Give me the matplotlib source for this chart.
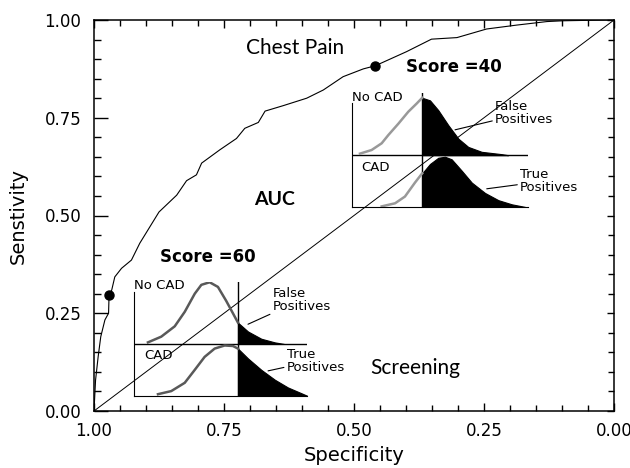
import numpy as np
import matplotlib.pyplot as plt
from matplotlib.ticker import MultipleLocator

# ROC curve (specificity, sensitivity)
spec = [1.000, 0.997, 0.992, 0.987, 0.979, 0.972, 0.971, 0.966, 0.960, 0.947,
        0.928, 0.912, 0.875, 0.841, 0.822, 0.803, 0.793, 0.758, 0.726, 0.710,
        0.684, 0.671, 0.636, 0.591, 0.559, 0.521, 0.482, 0.459, 0.399, 0.351,
        0.302, 0.245, 0.187, 0.129, 0.098, 0.014, 0.000]
sens = [0.000, 0.079, 0.139, 0.190, 0.233, 0.250, 0.297, 0.309, 0.343, 0.365,
        0.386, 0.429, 0.509, 0.552, 0.589, 0.604, 0.634, 0.668, 0.697, 0.723,
        0.738, 0.767, 0.781, 0.800, 0.821, 0.855, 0.875, 0.883, 0.919, 0.951,
        0.955, 0.977, 0.987, 0.996, 0.998, 1.000, 1.000]

# operating points for the two score cut-offs
cut_spec = [0.971, 0.459]
cut_sens = [0.297, 0.883]

# schematic score distributions in the insets (score, relative height)
s40_nocad_x = [4.7, 11.3, 17, 20.8, 26.5, 32.1, 36.9, 40, 44.4, 49.1, 54.8,
               60.5, 66.1, 73.7, 85, 88.7]
s40_nocad_y = [0.03, 0.10, 0.23, 0.39, 0.61, 0.84, 1.0, 1.11, 1.06, 0.87, 0.58,
               0.32, 0.16, 0.065, 0.02, 0.0]
s40_cad_x = [17, 24.6, 30.2, 35.9, 40, 44.4, 49.1, 52.9, 56.7, 62.4, 68.1,
             75.6, 83.2, 90.8, 98.3]
s40_cad_y = [0.01, 0.07, 0.20, 0.47, 0.65, 0.83, 0.95, 0.97, 0.92, 0.70, 0.47,
             0.27, 0.13, 0.05, 0.0]
s60_nocad_x = [7.9, 15.6, 23.4, 29.2, 35.0, 38.8, 43.6, 48.4, 53.2, 57.1, 60.0,
               65.8, 73.5, 81.3, 86.6]
s60_nocad_y = [0.03, 0.14, 0.34, 0.62, 0.97, 1.14, 1.19, 1.10, 0.83, 0.59, 0.41,
               0.24, 0.10, 0.03, 0.0]
s60_cad_x = [13.7, 21.4, 29.2, 35.0, 40.7, 46.5, 52.3, 57.1, 60.0, 65.8, 73.5,
             81.3, 88.9, 96.6, 100]
s60_cad_y = [0.03, 0.09, 0.25, 0.50, 0.75, 0.91, 0.97, 0.96, 0.91, 0.72, 0.50,
             0.31, 0.16, 0.05, 0.0]

fig = plt.figure(figsize=(6.3, 4.68), dpi=100)
ax = fig.add_axes([94/630, 1-411/468, 520/630, 391/468])

ax.plot(spec, sens, color='black', lw=0.8)
ax.plot([1, 0], [0, 1], color='black', lw=0.7)
ax.plot(cut_spec, cut_sens, 'o', color='black', ms=6.5)

ax.set_xlim(1, 0)
ax.set_ylim(0, 1)
ax.xaxis.set_major_locator(MultipleLocator(0.25))
ax.xaxis.set_minor_locator(MultipleLocator(0.05))
ax.yaxis.set_major_locator(MultipleLocator(0.25))
ax.yaxis.set_minor_locator(MultipleLocator(0.05))
ax.xaxis.set_major_formatter(lambda v, p: '%.2f' % v)
ax.yaxis.set_major_formatter(lambda v, p: '%.2f' % v)
ax.tick_params(which='both', direction='in', top=True, right=True,
               labelsize=12, width=1.0)
ax.tick_params(axis='x', which='major', length=6, pad=8)
ax.tick_params(axis='x', which='minor', length=4)
ax.tick_params(axis='y', which='major', length=10, pad=9)
ax.tick_params(axis='y', which='minor', length=5)
for t in ax.yaxis.get_major_ticks():
    t.tick2line.set_markersize(5)
for t in ax.yaxis.get_minor_ticks():
    t.tick2line.set_markersize(4)
for sp in ax.spines.values():
    sp.set_linewidth(1.1)

ax.set_xlabel('Specificity', fontsize=14, labelpad=4)
ax.set_ylabel('Senstivity', fontsize=14, labelpad=12)

ax.text(0.708, 0.928, 'Chest Pain', fontsize=15, family='Lato', va='center')
ax.text(0.469, 0.110, 'Screening', fontsize=15, family='Lato', va='center')
ax.text(0.652, 0.542, 'AUC', fontsize=14, family='Lato', weight='bold',
        ha='center', va='center')
ax.text(0.400, 0.881, 'Score =40', fontsize=12, weight='bold', va='center')
ax.text(0.873, 0.395, 'Score =60', fontsize=12, weight='bold', va='center')


def inset(bounds, thr, nx, ny, cx, cy, gray, fp_xy, fp_txt, tp_xy, tp_txt):
    ia = ax.inset_axes(bounds)
    ia.patch.set_alpha(0)
    ia.set_xlim(0, 100)
    ia.set_ylim(0, 2.2)
    for k in ['top', 'right']:
        ia.spines[k].set_visible(False)
    ia.spines['left'].set_bounds(0, 2)
    ia.set_xticks([])
    ia.set_yticks([])
    ia.axhline(1, color='black', lw=1.0)
    ia.plot([thr, thr], [0, 2.2], color='black', lw=1.0)
    for xs, ys, base in [(nx, ny, 1.0), (cx, cy, 0.0)]:
        xs = np.array(xs)
        ys = np.array(ys) + base
        left = xs <= thr
        right = xs >= thr
        ia.plot(xs[left], ys[left], color=gray, lw=1.8)
        ia.fill_between(xs[right], base, ys[right], color='black', lw=0.8)
    ia.text(0, 2.12, 'No CAD', fontsize=9.5, va='center')
    ia.text(5.5, 0.77, 'CAD', fontsize=9.5, va='center')
    ia.annotate('False\nPositives', xy=fp_xy, xytext=fp_txt, fontsize=9.5,
                va='center', linespacing=1.0,
                arrowprops=dict(arrowstyle='-', color='black', lw=0.8,
                                shrinkA=0, shrinkB=0))
    ia.annotate('True\nPositives', xy=tp_xy, xytext=tp_txt, fontsize=9.5,
                va='center', linespacing=1.0,
                arrowprops=dict(arrowstyle='-', color='black', lw=0.8,
                                shrinkA=0, shrinkB=0))
    return ia


inset([0.4956, 0.522, 0.339, 0.291], 40, s40_nocad_x, s40_nocad_y,
      s40_cad_x, s40_cad_y, '0.6',
      (58.6, 1.49), (81.3, 1.81), (76.6, 0.35), (95.5, 0.51))
inset([0.0775, 0.039, 0.3323, 0.2916], 60, s60_nocad_x, s60_nocad_y,
      s60_cad_x, s60_cad_y, '0.35',
      (65.8, 1.38), (80.1, 1.85), (77.4, 0.48), (88.2, 0.68))

fig.savefig('out.png', dpi=100)
